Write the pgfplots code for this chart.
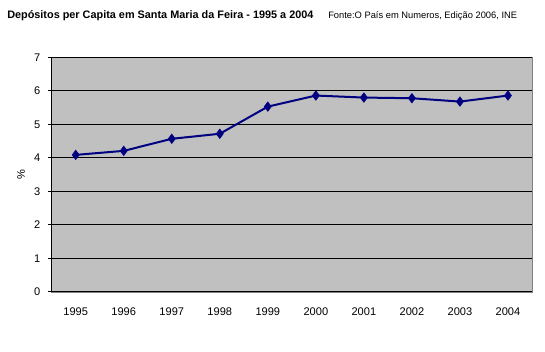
\documentclass[border=0pt]{standalone}
\usepackage{pgfplots}
\pgfplotsset{compat=1.18}
\usepackage{fontspec}
\setmainfont{Liberation Sans}
\definecolor{plotgray}{RGB}{192,192,192}
\definecolor{navyline}{RGB}{0,0,128}
\begin{document}
\begin{tikzpicture}[x=0.75pt,y=0.75pt]
\useasboundingbox (0,0) rectangle (545,352);
\node[anchor=west,font=\bfseries\fontsize{8.15}{10}\selectfont,inner sep=0pt] at (7,336) {Depósitos per Capita em Santa Maria da Feira - 1995 a 2004};
\node[anchor=west,font=\fontsize{7}{9}\selectfont,inner sep=0pt] at (328,336) {Fonte:O País em Numeros, Edição 2006, INE};
\begin{axis}[
  at={(51.7pt*0.75,60pt*0.75)}, anchor=south west,
  scale only axis, width=360.2pt, height=176pt,
  xmin=-0.5, xmax=9.5, ymin=0, ymax=7,
  axis x line*=bottom, axis y line*=left,
  axis line style={black, line width=0.75pt},
  axis background/.style={fill=plotgray, draw=gray},
  xtick={0,...,9},
  xticklabels={1995,1996,1997,1998,1999,2000,2001,2002,2003,2004},
  minor xtick={-0.5,0.5,...,9.5},
  ytick={0,...,7},
  ymajorgrids, major grid style={black, line width=0.75pt},
  x tick style={draw=none},
  minor x tick style={black, line width=0.75pt},
  y tick style={black, line width=0.75pt},
  tick align=outside,
  major tick length=3pt, minor tick length=3pt,
  tick label style={font=\fontsize{8.3}{10}\selectfont},
  /pgf/number format/assume math mode=true,
  xticklabel style={yshift=-5pt},
  yticklabel style={xshift=-2pt},
  ylabel={\%}, ylabel style={font=\fontsize{8.3}{10}\selectfont},
]
\addplot[navyline, line width=1.5pt, mark=diamond*, mark size=3.5pt, mark options={fill=navyline, draw=navyline, line width=0.5pt}]
coordinates {(0,4.09) (1,4.21) (2,4.57) (3,4.72) (4,5.53) (5,5.86) (6,5.80) (7,5.78) (8,5.68) (9,5.86)};
\end{axis}
\end{tikzpicture}
\end{document}
